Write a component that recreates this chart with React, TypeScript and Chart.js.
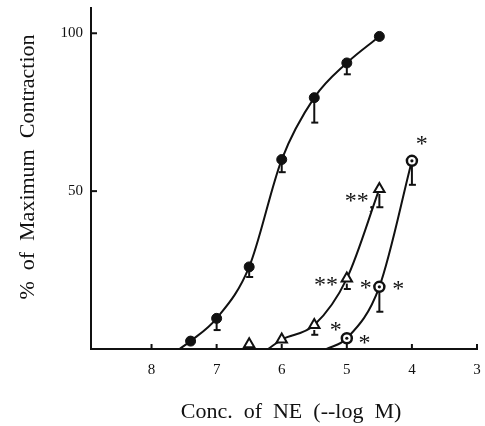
import React, { useEffect, useRef } from "react";
import { Chart, registerables } from "chart.js";

Chart.register(...registerables);

// axis ticks
const xTickValues = [8, 7, 6, 5, 4, 3];
const yTickValues = [50, 100];

// axis titles
const xTitle = "Conc.  of  NE  (--log  M)";
const yTitle = "%  of  Maximum  Contraction";

// control (filled circles)
const controlX = [7.57, 7.4, 7.0, 6.5, 6.0, 5.5, 5.0, 4.5];
const controlY = [0, 2.5, 9.7, 26, 60, 79.6, 90.6, 99];
const controlErrLow = [null, null, 6, 22.8, 56, 71.7, 87, null];

// open triangles
const triX = [6.21, 6.0, 5.5, 5.0, 4.5];
const triY = [0, 3, 7.6, 22.3, 50.7];
const triErrLow = [null, null, 4.5, 19, 44.9];
const triExtraX = [6.5];
const triExtraY = [1.5];

// open circles with centre dot
const dotX = [5.31, 5.0, 4.5, 4.0];
const dotY = [0, 3.4, 19.7, 59.6];
const dotErrLow = [null, null, 11.8, 52];

// significance marks
const starText = ["*", "**,", "**", "*", "*", "*", "*"];
const starX = [3.85, 4.8, 5.32, 4.71, 4.21, 5.17, 4.73];
const starY = [66.4, 48.6, 21.8, 20.9, 20.5, 7.6, 3.4];

const SERIF = "'Liberation Serif', 'DejaVu Serif', serif";
const INK = "#111";

function pts(xs: number[], ys: number[]) {
  return xs.map((x, i) => ({ x, y: ys[i] }));
}

function radii(n: number, r: number, firstZero = true) {
  return Array.from({ length: n }, (_, i) => (firstZero && i === 0 ? 0 : r));
}

const decorPlugin = {
  id: "decor",
  afterDatasetsDraw(chart: any) {
    const { ctx, scales, chartArea } = chart;
    const xs = scales.x;
    const ys = scales.y;
    ctx.save();
    ctx.strokeStyle = INK;
    ctx.fillStyle = INK;
    // inward tick marks
    ctx.lineWidth = 2;
    yTickValues.forEach((v) => {
      const py = ys.getPixelForValue(v);
      ctx.beginPath();
      ctx.moveTo(chartArea.left, py);
      ctx.lineTo(chartArea.left + 6, py);
      ctx.stroke();
    });
    xTickValues.forEach((v) => {
      const px = xs.getPixelForValue(v);
      ctx.beginPath();
      ctx.moveTo(px, chartArea.bottom);
      ctx.lineTo(px, chartArea.bottom - 5);
      ctx.stroke();
    });
    // error bars (downward with cap)
    const drawErr = (xArr: number[], yArr: number[], low: (number | null)[], r: number) => {
      xArr.forEach((x, i) => {
        const l = low[i];
        if (l == null) return;
        const px = xs.getPixelForValue(x);
        const py = ys.getPixelForValue(yArr[i]);
        const pl = ys.getPixelForValue(l);
        ctx.lineWidth = 2;
        ctx.beginPath();
        ctx.moveTo(px, py + r);
        ctx.lineTo(px, pl);
        ctx.stroke();
        ctx.beginPath();
        ctx.moveTo(px - 3, pl);
        ctx.lineTo(px + 4, pl);
        ctx.stroke();
      });
    };
    drawErr(controlX, controlY, controlErrLow, 4);
    drawErr(triX, triY, triErrLow, 5);
    drawErr(dotX, dotY, dotErrLow, 5);
    // centre dots of open circles
    dotX.forEach((x, i) => {
      if (i === 0) return;
      ctx.beginPath();
      ctx.arc(xs.getPixelForValue(x), ys.getPixelForValue(dotY[i]), 1.6, 0, Math.PI * 2);
      ctx.fill();
    });
    // asterisks
    ctx.font = "24px " + SERIF;
    ctx.textAlign = "center";
    ctx.textBaseline = "alphabetic";
    starText.forEach((t, i) => {
      ctx.fillText(t, xs.getPixelForValue(starX[i]), ys.getPixelForValue(starY[i]) + 12);
    });
    // axis titles
    ctx.font = "22px " + SERIF;
    ctx.textAlign = "center";
    ctx.textBaseline = "alphabetic";
    ctx.fillText(xTitle, chartArea.left + (chartArea.right - chartArea.left) / 2 + 7, 418);
    ctx.save();
    ctx.translate(34, 167);
    ctx.rotate(-Math.PI / 2);
    ctx.fillText(yTitle, 0, 0);
    ctx.restore();
    ctx.restore();
  },
};

export default function App() {
  const ref = useRef<HTMLCanvasElement | null>(null);
  useEffect(() => {
    document.body.style.margin = "0";
    const canvas = ref.current;
    if (!canvas) return;
    const chart = new Chart(canvas, {
      type: "scatter",
      data: {
        datasets: [
          {
            data: pts(controlX, controlY),
            showLine: true,
            borderColor: INK,
            borderWidth: 2,
            cubicInterpolationMode: "monotone",
            pointRadius: radii(controlX.length, 5),
            pointBackgroundColor: INK,
            pointBorderColor: INK,
            pointBorderWidth: 1,
            clip: false,
          },
          {
            data: pts(triX, triY),
            showLine: true,
            borderColor: INK,
            borderWidth: 2,
            cubicInterpolationMode: "monotone",
            pointStyle: "triangle",
            pointRadius: radii(triX.length, 6),
            pointBackgroundColor: "#fff",
            pointBorderColor: INK,
            pointBorderWidth: 2,
            clip: false,
          },
          {
            data: pts(triExtraX, triExtraY),
            showLine: false,
            pointStyle: "triangle",
            pointRadius: 6,
            pointBackgroundColor: "#fff",
            pointBorderColor: INK,
            pointBorderWidth: 2,
            clip: false,
          },
          {
            data: pts(dotX, dotY),
            showLine: true,
            borderColor: INK,
            borderWidth: 2,
            cubicInterpolationMode: "monotone",
            pointRadius: radii(dotX.length, 5),
            pointBackgroundColor: "#fff",
            pointBorderColor: INK,
            pointBorderWidth: 2.5,
            clip: false,
          },
        ],
      },
      options: {
        animation: false,
        responsive: false,
        events: [],
        layout: { padding: { top: 6, right: 8, left: 0, bottom: 0 } },
        plugins: { legend: { display: false }, tooltip: { enabled: false } },
        scales: {
          x: {
            type: "linear",
            min: 3,
            max: 8.93,
            reverse: true,
            afterBuildTicks: (s: any) => {
              s.ticks = xTickValues.map((v) => ({ value: v }));
            },
            afterFit: (s: any) => {
              s.height = 77;
              s.paddingLeft = 0;
              s.paddingRight = 0;
            },
            grid: { display: false, drawTicks: false },
            border: { display: true, color: INK, width: 2 },
            ticks: {
              color: INK,
              padding: 12,
              font: { family: SERIF, size: 15 },
              maxRotation: 0,
              autoSkip: false,
            },
            title: { display: false },
          },
          y: {
            type: "linear",
            min: 0,
            max: 108,
            afterBuildTicks: (s: any) => {
              s.ticks = yTickValues.map((v) => ({ value: v }));
            },
            afterFit: (s: any) => {
              s.width = 91;
              s.paddingTop = 0;
              s.paddingBottom = 0;
            },
            grid: { display: false, drawTicks: false },
            border: { display: true, color: INK, width: 2 },
            ticks: {
              color: INK,
              padding: 8,
              font: { family: SERIF, size: 15 },
            },
            title: { display: false },
          },
        },
      },
      plugins: [decorPlugin],
    } as any);
    return () => chart.destroy();
  }, []);
  return (
    <div style={{ width: 485, height: 426 }}>
      <canvas ref={ref} width={485} height={426} />
    </div>
  );
}
